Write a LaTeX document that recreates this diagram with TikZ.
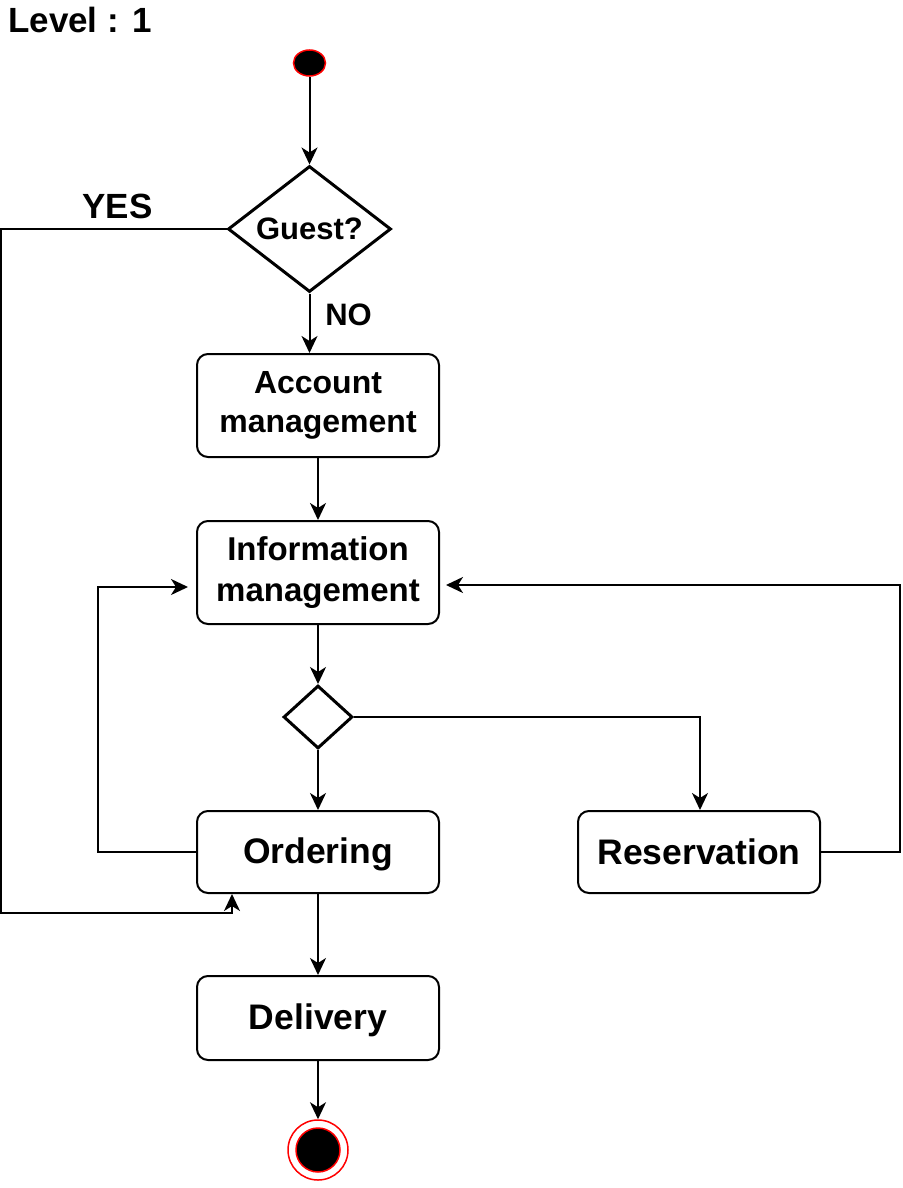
\documentclass[tikz,border=0pt]{standalone}
\usepackage{fontspec}
\setmainfont{Liberation Sans}
\usetikzlibrary{arrows.meta,shapes.geometric}

\begin{document}
\begin{tikzpicture}[x=1pt,y=-1pt,
  every node/.style={font=\bfseries},
  actbox/.style={draw=black,line width=2pt,rounded corners=11pt,fill=white,
    minimum width=242pt,inner sep=0pt,align=center},
  decision/.style={draw=black,line width=3pt,diamond,inner sep=0pt,fill=white},
  flow/.style={draw=black,line width=2pt,-{Stealth[length=17pt,width=16pt,inset=5pt]}},
  lbl/.style={inner sep=0pt}
]
\useasboundingbox (0,0) rectangle (902,1188);

% title
\node[lbl,anchor=base west,font=\bfseries\fontsize{35}{40}\selectfont] (title) at (8,33) {Level : 1};

% start and end markers
\node[ellipse,fill=black,draw=red,line width=1.5pt,minimum width=32pt,minimum height=26pt,inner sep=0pt] (start) at (309.5,63) {};
\node[circle,draw=red,line width=1.5pt,minimum size=60pt,inner sep=0pt] (endo) at (318,1150) {};
\node[circle,fill=black,draw=red,line width=1.5pt,minimum size=44pt,inner sep=0pt] (endi) at (318,1150) {};

% decisions
\node[decision,minimum width=163pt,minimum height=126pt,shape aspect=1.29] (guest) at (309.5,229) {};
\node[lbl,font=\bfseries\fontsize{31}{36}\selectfont] (guestt) at (309.5,229) {Guest?};
\node[decision,minimum width=69pt,minimum height=63pt,shape aspect=1.1] (merge) at (318,717) {};

% activities
\node[actbox,minimum height=103pt,font=\bfseries\fontsize{32}{39}\selectfont] (acct) at (318,405.5) {Account\\management};
\node[actbox,minimum height=103pt,font=\bfseries\fontsize{33}{41}\selectfont] (info) at (318,572.5) {Information\\management};
\node[actbox,minimum height=82pt] (order) at (318,852) {};
\node[lbl,font=\bfseries\fontsize{35.5}{40}\selectfont] (ordert) at (318,854) {Ordering};
\node[actbox,minimum height=82pt,font=\bfseries\fontsize{35.5}{40}\selectfont] (reserv) at (699,852) {Reservation};
\node[actbox,minimum height=84pt] (deliv) at (318,1018) {};
\node[lbl,font=\bfseries\fontsize{35.5}{40}\selectfont] (delivt) at (318,1020) {Delivery};

% bend points of the loops
\coordinate (yesL) at (1,229);
\coordinate (yesB) at (1,913);
\coordinate (yesR) at (232,913);
\coordinate (ordL) at (98,852);
\coordinate (ordT) at (98,587);
\coordinate (resR) at (900,852);
\coordinate (resT) at (900,585);
\coordinate (mrgR) at (700,717);

% main flow
\draw[flow] (start.south) -- (guest.north);
\draw[flow] (guest.south) -- (guest.south |- acct.north);
\draw[flow] (acct.south) -- (info.north);
\draw[flow] (info.south) -- (merge.north);
\draw[flow] (merge.south) -- (order.north);
\draw[flow] (order.south) -- (deliv.north);
\draw[flow] (deliv.south) -- (endo.north);

% branches and loops
\draw[flow] (merge.east) -- (mrgR) -- (mrgR |- reserv.north);
\draw[flow,shorten >=8pt] (order.west) -- (ordL) -- (ordT) -- (ordT -| info.west);
\draw[flow,shorten >=6pt] (reserv.east) -- (resR) -- (resT) -- (resT -| info.east);
\draw[flow] (guest.west) -- (yesL) -- (yesB) -- (yesR) -- (yesR |- order.south);

% guard labels
\node[lbl,font=\bfseries\fontsize{35}{40}\selectfont] (yes) at (117.5,206.5) {YES};
\node[lbl,font=\bfseries\fontsize{31}{36}\selectfont] (no) at (348.5,314.5) {NO};
\end{tikzpicture}
\end{document}
